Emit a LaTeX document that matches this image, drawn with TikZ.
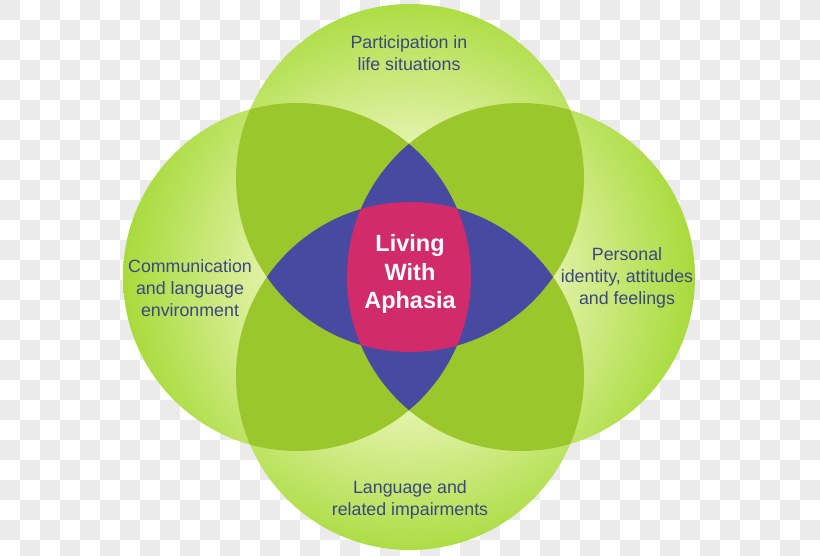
\documentclass[tikz,border=0pt]{standalone}
\usepackage{fontspec}
\setmainfont{Liberation Sans}
\definecolor{checkg}{HTML}{EBEBEB}
\definecolor{lightg}{HTML}{E2F2A8}
\definecolor{limeg}{HTML}{A6DA38}
\definecolor{dkg}{HTML}{9BC72D}
\definecolor{blueA}{HTML}{474AA0}
\definecolor{pinkA}{HTML}{D22B6B}
\definecolor{txtA}{HTML}{3B4780}
\pgfdeclareradialshading{glow}{\pgfpoint{0bp}{0bp}}{color(0bp)=(lightg); color(12bp)=(lightg); color(25bp)=(limeg); color(50bp)=(limeg)}
\tikzset{
  lbl/.style={text=txtA, align=center, inner sep=0pt, font=\fontsize{17.8}{21.8}\selectfont},
  core/.style={text=white, align=center, inner sep=0pt, font=\bfseries\fontsize{23.5}{28.5}\selectfont}
}
\begin{document}
\begin{tikzpicture}[x=1pt,y=-1pt]
\useasboundingbox (0,0) rectangle (820,555);
% transparent checkerboard background
\fill[white] (0,0) rectangle (820,555);
\begin{scope}
\clip (0,0) rectangle (820,555);
\foreach \i in {0,2,...,40}{
  \foreach \j in {0,2,...,26}{
    \fill[checkg] (\i*20,\j*20) rectangle ++(20,20);
    \fill[checkg] (\i*20+20,\j*20+20) rectangle ++(20,20);
  }
}
\end{scope}
% circle centres
\coordinate (C) at (409,277);
\coordinate (T) at (410,178);
\coordinate (B) at (410,376);
\coordinate (L) at (297,277);
\coordinate (R) at (521,277);
\def\rr{174pt}
% single circles with glow
\foreach \c in {T,B,L,R}{
  \begin{scope}
    \clip (\c) circle (\rr);
    \shade[shading=glow] (C) circle (290pt);
  \end{scope}
}
% pairwise overlaps
\foreach \a/\b in {T/L,T/R,B/L,B/R,T/B,L/R}{
  \begin{scope}
    \clip (\a) circle (\rr);
    \fill[dkg] (\b) circle (\rr);
  \end{scope}
}
% triple overlaps
\foreach \a/\b/\c in {T/L/R,B/L/R,T/B/L,T/B/R}{
  \begin{scope}
    \clip (\a) circle (\rr);
    \clip (\b) circle (\rr);
    \fill[blueA] (\c) circle (\rr);
  \end{scope}
}
% four-way overlap
\begin{scope}
  \clip (T) circle (\rr);
  \clip (B) circle (\rr);
  \clip (L) circle (\rr);
  \fill[pinkA] (R) circle (\rr);
\end{scope}
% labels
\node[lbl] (top) at (409,53) {Participation in\\life situations};
\node[lbl] (left) at (190,288) {Communication\\and language\\environment};
\node[lbl] (right) at (627,278) {Personal\\identity, attitudes\\and feelings};
\node[lbl] (bottom) at (410,500) {Language and\\related impairments};
\node[core] (centre) at (410,274) {Living\\With\\Aphasia};
\end{tikzpicture}
\end{document}
